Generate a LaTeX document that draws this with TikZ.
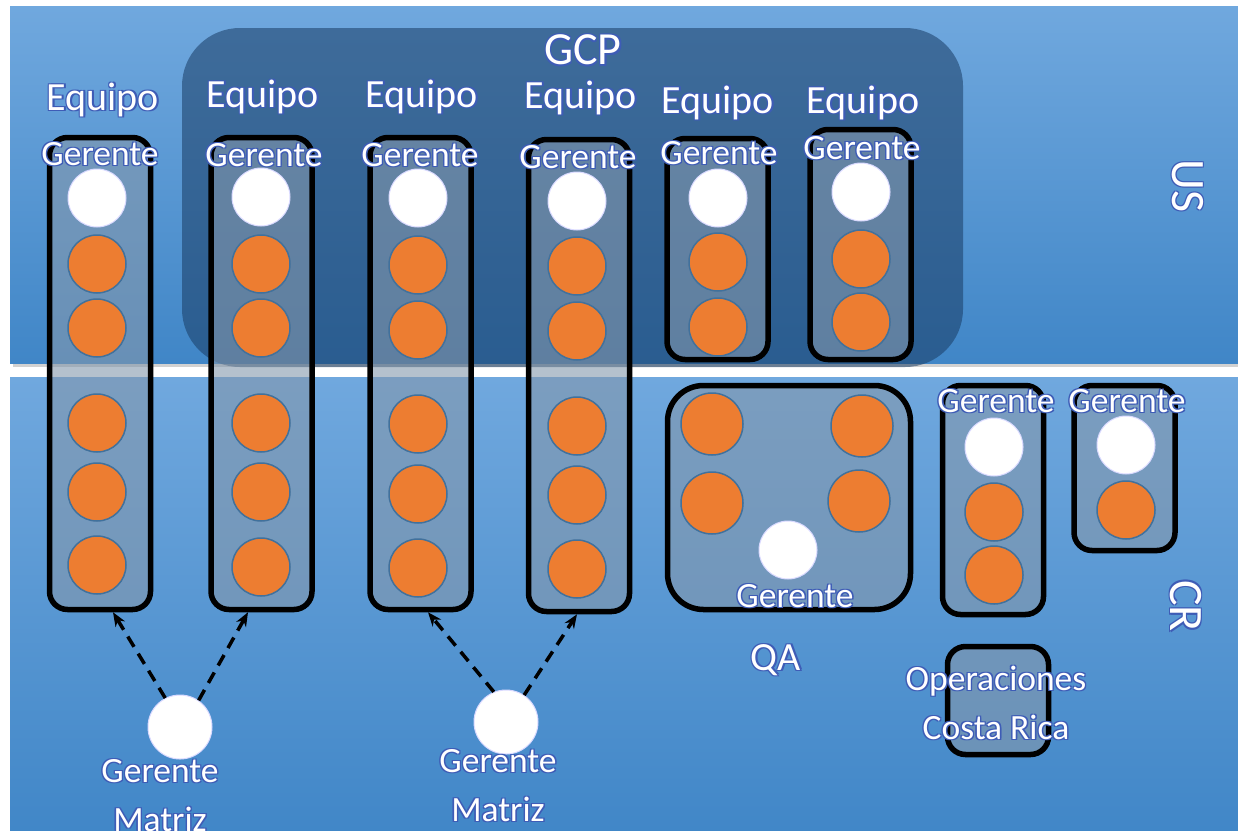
\documentclass[tikz,border=0pt]{standalone}
\usepackage{fontspec}
\setmainfont{Carlito}
\usetikzlibrary{arrows.meta}
\usetikzlibrary{positioning}

\definecolor{bandtop}{RGB}{112,168,222}
\definecolor{bandbot}{RGB}{64,134,199}
\definecolor{gcpfill}{RGB}{25,60,100}
\definecolor{boxfill}{RGB}{131,151,172}
\definecolor{orangedot}{RGB}{237,125,49}
\definecolor{dotrim}{RGB}{65,113,156}
\definecolor{glowblue}{RGB}{62,92,182}

% white text with a thin blue halo
\newcommand{\glow}[1]{%
  \makebox[0pt][l]{\textcolor{glowblue}{\hspace*{-1.3pt}\raisebox{1.3pt}{#1}}}%
  \makebox[0pt][l]{\textcolor{glowblue}{\hspace*{1.3pt}\raisebox{-1.3pt}{#1}}}%
  \makebox[0pt][l]{\textcolor{glowblue}{\hspace*{1.3pt}\raisebox{1.3pt}{#1}}}%
  \makebox[0pt][l]{\textcolor{glowblue}{\hspace*{-1.3pt}\raisebox{-1.3pt}{#1}}}%
  \textcolor{white}{#1}}

\begin{document}
\begin{tikzpicture}[x=1pt, y=-1pt,
    team/.style={draw=black, line width=5.5pt, fill=boxfill, fill opacity=0.6,
                 rounded corners=18pt, inner sep=0pt, minimum width=101pt},
    mgr/.style={circle, fill=white, draw=white!85!blue, line width=1pt,
                minimum size=58pt, inner sep=0pt},
    dev/.style={circle, fill=orangedot, draw=dotrim, line width=1.5pt,
                minimum size=58pt, inner sep=0pt},
    lbl/.style={font=\fontsize{35.5}{49}\selectfont, align=center, inner sep=0pt},
    big/.style={font=\fontsize{40}{42}\selectfont, inner sep=0pt},
    side/.style={font=\fontsize{48}{50}\selectfont, inner sep=0pt, rotate=-90},
    link/.style={line width=3.5pt, dash pattern=on 12pt off 8pt,
                 -{Stealth[length=14pt,width=11pt]}}]

\useasboundingbox (0,0) rectangle (1238,830);

% bands
\fill[black!18] (13,9) rectangle (1250,367);
\shade[top color=bandtop, bottom color=bandbot] (10,6) rectangle (1250,363);
\fill[black!18] (13,380) rectangle (1250,840);
\shade[top color=bandtop, bottom color=bandbot] (10,377) rectangle (1250,840);
\node[side] at (1188,186) (US) {\glow{US}};
\node[side] at (1186,606) (CR) {\glow{CR}};

% GCP area
\fill[gcpfill, opacity=0.55, rounded corners=58pt] (182,28) rectangle (963,367);
\node[font=\fontsize{46}{48}\selectfont, inner sep=0pt] at (583,50) (GCP) {\glow{GCP}};

% teams
\node[team, minimum height=472pt] at (100,373.5) (EQ1) {};
\node[team, minimum height=472pt] at (261.5,373.5) (EQ2) {};
\node[team, minimum height=472pt] at (420.5,373.5) (EQ3) {};
\node[team, minimum height=472pt] at (579,375.5) (EQ4) {};
\node[team, minimum height=221pt] at (717.5,249) (EQ5) {};
\node[team, minimum height=230pt] at (860.5,244.5) (EQ6) {};

\node[big] at (103,100) (EQ1L) {\glow{Equipo}};
\node[big] at (263,97) (EQ2L) {\glow{Equipo}};
\node[big] at (422,97) (EQ3L) {\glow{Equipo}};
\node[big] at (581,98) (EQ4L) {\glow{Equipo}};
\node[big] at (718,103) (EQ5L) {\glow{Equipo}};
\node[big] at (863,103) (EQ6L) {\glow{Equipo}};

\node[lbl] at (100,154) (G1L) {\glow{Gerente}};
\node[lbl] at (264,155) (G2L) {\glow{Gerente}};
\node[lbl] at (420,155) (G3L) {\glow{Gerente}};
\node[lbl] at (578,157) (G4L) {\glow{Gerente}};
\node[lbl] at (719,153) (G5L) {\glow{Gerente}};
\node[lbl] at (862,148) (G6L) {\glow{Gerente}};

\node[mgr] at (97,198) (G1) {};
\node[dev] at (97,264) (D1a) {};
\node[dev] at (97,328) (D1b) {};
\node[dev] at (97,423) (D1c) {};
\node[dev] at (97,492) (D1d) {};
\node[dev] at (97,565) (D1e) {};

\node[mgr] at (261,197) (G2) {};
\node[dev] at (261,264) (D2a) {};
\node[dev] at (261,328) (D2b) {};
\node[dev] at (261,423) (D2c) {};
\node[dev] at (261,492) (D2d) {};
\node[dev] at (261,567) (D2e) {};

\node[mgr] at (418,198) (G3) {};
\node[dev] at (418,265) (D3a) {};
\node[dev] at (418,330) (D3b) {};
\node[dev] at (418,424) (D3c) {};
\node[dev] at (418,494) (D3d) {};
\node[dev] at (418,568) (D3e) {};

\node[mgr] at (577,201) (G4) {};
\node[dev] at (577,266) (D4a) {};
\node[dev] at (577,331) (D4b) {};
\node[dev] at (577,426) (D4c) {};
\node[dev] at (577,495) (D4d) {};
\node[dev] at (577,569) (D4e) {};

\node[mgr] at (718,198) (G5) {};
\node[dev] at (718,262) (D5a) {};
\node[dev] at (718,327) (D5b) {};

\node[mgr] at (861,192) (G6) {};
\node[dev] at (861,259) (D6a) {};
\node[dev] at (861,322) (D6b) {};

% QA
\node[team, rounded corners=36pt, minimum width=243pt, minimum height=224pt]
    at (789,497.5) (QA) {};
\node[dev, minimum height=62pt] at (712,424) (QAa) {};
\node[dev, minimum height=62pt] at (862,426) (QAb) {};
\node[dev, minimum height=62pt] at (712,503) (QAc) {};
\node[dev, minimum height=62pt] at (859,501) (QAd) {};
\node[mgr] at (788,550) (GQA) {};
\node[lbl] at (795,596) (GQAL) {\glow{Gerente}};
\node[big] at (776,660) (QAL) {\glow{QA}};

% CR managers
\node[team, minimum height=229pt] at (993,500) (GC1) {};
\node[lbl] at (996,401) (GC1L) {\glow{Gerente}};
\node[mgr] at (994,447) (GC1m) {};
\node[dev] at (994,512) (GC1a) {};
\node[dev] at (994,575) (GC1b) {};

\node[team, minimum height=165pt] at (1124.5,468) (GC2) {};
\node[lbl] at (1127,401) (GC2L) {\glow{Gerente}};
\node[mgr] at (1126,445) (GC2m) {};
\node[dev] at (1126,510) (GC2a) {};

% operations
\node[team, minimum height=108pt] at (998,700.5) (OPS) {};
\node[lbl] at (996,703) (OPSL) {\glow{Operaciones}\\\glow{Costa Rica}};

% matrix managers
\node[mgr, minimum height=64pt] at (180,727) (M1) {};
\node[lbl, anchor=north] at (160,758) (M1L) {\glow{Gerente}\\\glow{Matriz}};
\node[mgr, minimum height=64pt] at (506,722) (M2) {};
\node[lbl, anchor=north] at (498,748) (M2L) {\glow{Gerente}\\\glow{Matriz}};

\draw[link] (M1.117) -- ([xshift=13pt]EQ1.south);
\draw[link] (M1.55) -- ([xshift=-13.5pt]EQ2.south);
\draw[link] (M2.112) -- ([xshift=7.5pt]EQ3.south);
\draw[link] (M2.56) -- ([xshift=-2pt]EQ4.south);
\end{tikzpicture}
\end{document}
